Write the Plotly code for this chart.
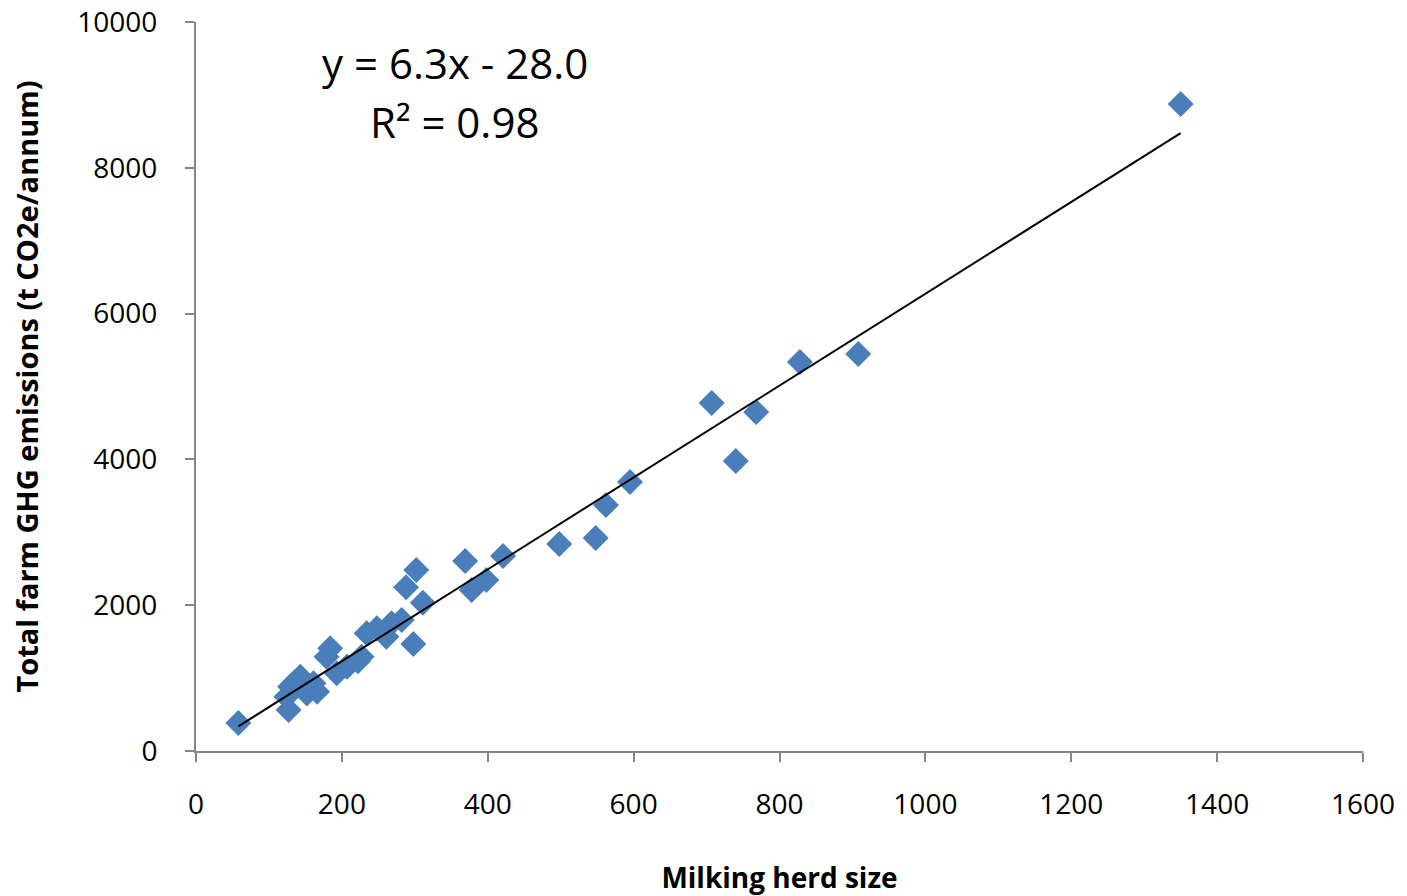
import plotly.graph_objects as go

herd_size = [58, 1350, 908, 828, 707, 768, 740, 595, 562, 548, 498, 421, 398, 378, 369,
             302, 288, 311, 298, 282, 268, 261, 234, 248, 227, 184, 179, 193, 207, 161,
             143, 129, 124, 127, 152, 166, 222, 136]
ghg = [384, 8875, 5446, 5336, 4774, 4650, 3978, 3690, 3374, 2922, 2840, 2675, 2346, 2208, 2606,
       2483, 2245, 2034, 1468, 1797, 1751, 1568, 1614, 1683, 1294, 1409, 1294, 1066, 1156, 929,
       1019, 882, 745, 562, 790, 813, 1230, 950]

slope = 6.3
intercept = -28.0
x_line = [min(herd_size), max(herd_size)]
y_line = [slope * v + intercept for v in x_line]

fig = go.Figure()
fig.add_trace(go.Scatter(x=herd_size, y=ghg, mode="markers",
                         marker=dict(symbol="diamond", size=20, color="#4A7EBB", line=dict(width=0)),
                         showlegend=False))
fig.add_trace(go.Scatter(x=x_line, y=y_line, mode="lines",
                         line=dict(color="black", width=2), showlegend=False))

eq_font = dict(family="Open Sans", size=42, color="black")
fig.add_annotation(x=355, y=9450, xref="x", yref="y", text="y = 6.3x - 28.0",
                   showarrow=False, font=eq_font, xanchor="center", yanchor="middle")
fig.add_annotation(x=355, y=8640, xref="x", yref="y", text="R² = 0.98",
                   showarrow=False, font=eq_font, xanchor="center", yanchor="middle")

axis_common = dict(showgrid=False, zeroline=False, showline=True, linecolor="#868686",
                   linewidth=2, ticks="outside", tickcolor="#868686", ticklen=9, tickwidth=2,
                   automargin=False,
                   tickfont=dict(family="Open Sans", size=28, color="black"))

fig.update_xaxes(range=[0, 1600], dtick=200, ticklabelstandoff=18, **axis_common,
                 title=dict(text="<b>Milking herd size</b>", standoff=48,
                            font=dict(family="Open Sans", size=28, color="black")))
fig.update_yaxes(range=[0, 10000], dtick=2000, tickformat="d", ticklabelstandoff=22, **axis_common,
                 title=dict(text="<b>Total farm GHG emissions (t CO2e/annum)</b>", standoff=30,
                            font=dict(family="Open Sans", size=29, color="black")))

fig.update_layout(width=1407, height=896, margin=dict(l=196, r=44, t=22, b=145),
                  plot_bgcolor="white", paper_bgcolor="white")
fig.write_html("out.html")
